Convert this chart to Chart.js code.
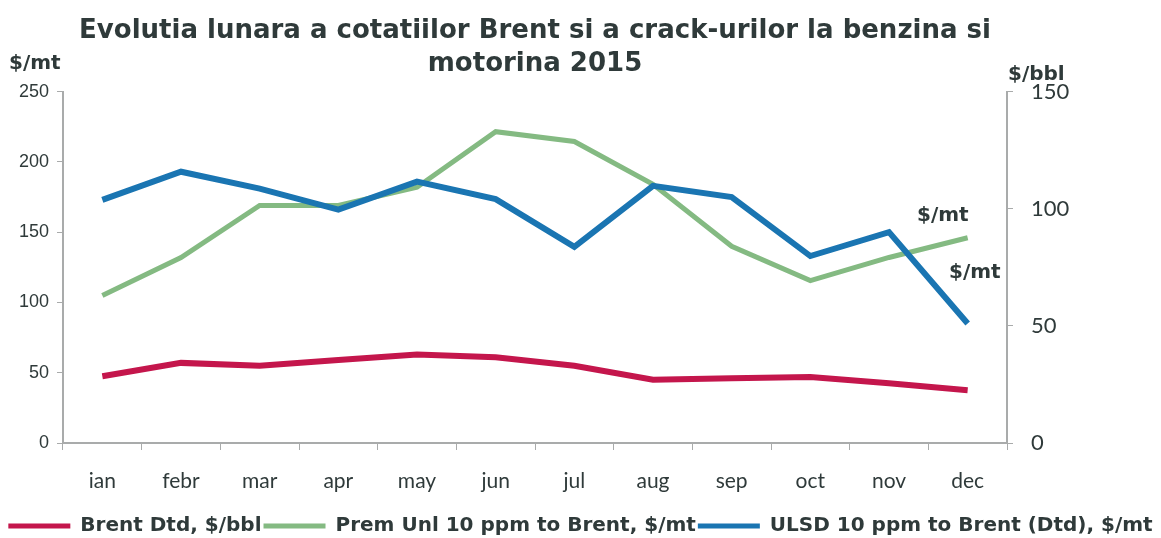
<!DOCTYPE html>
<html>
<head>
<meta charset="utf-8">
<script src="https://cdn.jsdelivr.net/npm/chart.js@4.4.1/dist/chart.umd.min.js"></script>
<style>
	html, body { margin: 0; padding: 0; background: #fff; }
	#wrap { width: 1161px; height: 538px; }
</style>
</head>
<body>
<div id="wrap"><canvas id="cvs" width="1161" height="538"></canvas></div>
<script>
var months = ["ian", "febr", "mar", "apr", "may", "jun", "jul", "aug", "sep", "oct", "nov", "dec"];
var brent = [47.5, 57, 55, 59, 63, 61, 55, 45, 46, 47, 42.5, 37.5];
var premUnl = [105, 132, 169, 169, 182, 221.5, 214.5, 184, 140, 115.5, 132, 146];
var ulsd = [173, 193, 181, 166, 186, 173.5, 139.5, 183, 175, 133, 150, 85];
var seriesNames = ["Brent Dtd, $/bbl", "Prem Unl 10 ppm to Brent, $/mt", "ULSD 10 ppm to Brent (Dtd), $/mt"];
var titleLines = ["Evolutia lunara a cotatiilor Brent si a crack-urilor la benzina si", "motorina 2015"];

var textColor = "#2f3a3a";
var axisColor = "#a9abab";

// unit labels drawn over the chart (not part of the library axes)
var unitLabels = {
	id: "unitLabels",
	afterDraw(chart) {
		let ctx = chart.ctx;
		let y = chart.scales.y;
		let area = chart.chartArea;
		ctx.save();
		ctx.fillStyle = textColor;
		ctx.font = "bold 20px 'DejaVu Sans'";
		ctx.textBaseline = "middle";
		ctx.textAlign = "left";
		ctx.fillText("$/mt", 9, 64);
		ctx.fillText("$/bbl", area.right + 1, 75);
		ctx.fillText("$/mt", area.right - 90, y.getPixelForValue(161.5));
		ctx.fillText("$/mt", area.right - 58, y.getPixelForValue(121));
		ctx.restore();
	}
};

var config = {
	type: "line",
	data: {
		labels: months,
		datasets: [
			{
				label: seriesNames[0],
				data: brent,
				borderColor: "#c4164c",
				backgroundColor: "#c4164c",
				borderWidth: 6,
				pointRadius: 0,
				tension: 0,
				order: 2
			},
			{
				label: seriesNames[1],
				data: premUnl,
				borderColor: "#84ba82",
				backgroundColor: "#84ba82",
				borderWidth: 5,
				pointRadius: 0,
				tension: 0,
				order: 1
			},
			{
				label: seriesNames[2],
				data: ulsd,
				borderColor: "#1a75b2",
				backgroundColor: "#1a75b2",
				borderWidth: 6,
				pointRadius: 0,
				tension: 0,
				order: 0
			}
		]
	},
	options: {
		responsive: false,
		animation: false,
		layout: {
			padding: { left: 0, right: 0, top: 0, bottom: -8 }
		},
		plugins: {
			title: {
				display: true,
				fullSize: false,
				text: titleLines,
				color: textColor,
				font: { family: "'DejaVu Sans'", size: 26, weight: "bold", lineHeight: 1.3 },
				padding: { top: 14, bottom: 10 }
			},
			legend: {
				position: "bottom",
				labels: {
					color: textColor,
					font: { family: "'DejaVu Sans'", size: 20, weight: "bold" },
					boxWidth: 62,
					boxHeight: 5,
					padding: 2,
					sort: (a, b) => a.datasetIndex - b.datasetIndex,
					generateLabels: (chart) => Chart.defaults.plugins.legend.labels.generateLabels(chart).map(l => {
						l.lineWidth = 0;
						l.fillStyle = l.strokeStyle;
						return l;
					})
				}
			},
			tooltip: { enabled: false }
		},
		scales: {
			x: {
				offset: true,
				grid: { display: true, drawOnChartArea: false, offset: true, color: axisColor, tickLength: 7, tickColor: axisColor },
				border: { color: axisColor, width: 2 },
				ticks: { color: textColor, font: { family: "Lato", size: 21 }, padding: 19, maxRotation: 0 },
				afterFit(scale) { scale.height = 71; }
			},
			y: {
				position: "left",
				min: 0,
				max: 250,
				grid: { drawOnChartArea: false, color: axisColor, tickLength: 6, tickColor: axisColor },
				border: { color: axisColor, width: 2 },
				ticks: { stepSize: 50, color: textColor, font: { family: "'Liberation Sans'", size: 18 }, padding: 8 },
				afterFit(scale) { scale.width = 63; }
			},
			y1: {
				position: "right",
				min: 0,
				max: 150,
				grid: { drawOnChartArea: false, color: axisColor, tickLength: 6, tickColor: axisColor },
				border: { color: axisColor, width: 2 },
				ticks: { stepSize: 50, color: textColor, font: { family: "Lato", size: 22 }, padding: 18 },
				afterFit(scale) { scale.width = 154; }
			}
		}
	},
	plugins: [unitLabels]
};

var chart = new Chart("cvs", config);
</script>
</body>
</html>
